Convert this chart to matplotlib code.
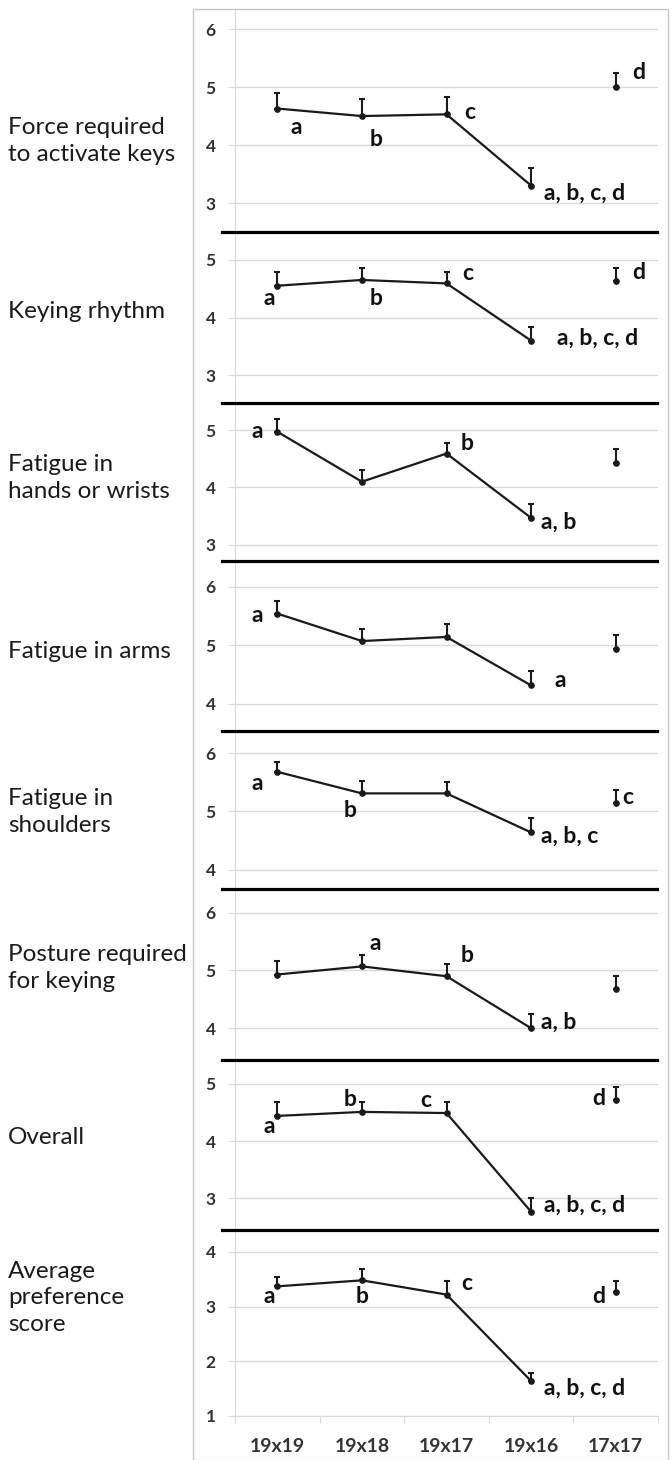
import matplotlib
matplotlib.use("Agg")
import matplotlib.pyplot as plt
from matplotlib.lines import Line2D
from matplotlib.patches import Rectangle

plt.rcParams['font.family'] = ['Lato', 'DejaVu Sans']

# ---- data ----
keyboards = ["19x19", "19x18", "19x17", "19x16", "17x17"]

titles = [
    "Force required\nto activate keys",
    "Keying rhythm",
    "Fatigue in\nhands or wrists",
    "Fatigue in arms",
    "Fatigue in\nshoulders",
    "Posture required\nfor keying",
    "Overall",
    "Average\npreference\nscore",
]

force_mean = [4.63, 4.50, 4.53, 3.30, 5.00]
force_err = [0.27, 0.30, 0.30, 0.30, 0.24]
rhythm_mean = [4.55, 4.65, 4.59, 3.60, 4.64]
rhythm_err = [0.24, 0.21, 0.20, 0.23, 0.22]
hands_mean = [4.97, 4.10, 4.59, 3.47, 4.43]
hands_err = [0.22, 0.21, 0.19, 0.24, 0.24]
arms_mean = [5.54, 5.07, 5.14, 4.31, 4.93]
arms_err = [0.22, 0.21, 0.22, 0.24, 0.24]
shoulders_mean = [5.68, 5.31, 5.31, 4.64, 5.14]
shoulders_err = [0.17, 0.21, 0.19, 0.24, 0.22]
posture_mean = [4.93, 5.07, 4.90, 4.00, 4.68]
posture_err = [0.23, 0.19, 0.22, 0.24, 0.23]
overall_mean = [4.44, 4.51, 4.49, 2.76, 4.72]
overall_err = [0.24, 0.18, 0.20, 0.24, 0.23]
pref_mean = [3.37, 3.48, 3.22, 1.64, 3.26]
pref_err = [0.18, 0.20, 0.24, 0.14, 0.20]

means = [force_mean, rhythm_mean, hands_mean, arms_mean,
         shoulders_mean, posture_mean, overall_mean, pref_mean]
errs = [force_err, rhythm_err, hands_err, arms_err,
        shoulders_err, posture_err, overall_err, pref_err]

yticks = [[3, 4, 5, 6], [3, 4, 5], [3, 4, 5], [4, 5, 6],
          [4, 5, 6], [4, 5, 6], [3, 4, 5], [1, 2, 3, 4]]

# significance letters: (keyboard index, text)
letters = [
    [(0, "a"), (1, "b"), (2, "c"), (3, "a, b, c, d"), (4, "d")],
    [(0, "a"), (1, "b"), (2, "c"), (3, "a, b, c, d"), (4, "d")],
    [(0, "a"), (2, "b"), (3, "a, b")],
    [(0, "a"), (3, "a")],
    [(0, "a"), (1, "b"), (3, "a, b, c"), (4, "c")],
    [(1, "a"), (2, "b"), (3, "a, b")],
    [(0, "a"), (1, "b"), (2, "c"), (3, "a, b, c, d"), (4, "d")],
    [(0, "a"), (1, "b"), (2, "c"), (3, "a, b, c, d"), (4, "d")],
]

# ---- layout (pixels) ----
W, H = 672, 1460
panel_px = [(10, 232), (232, 403), (403, 561), (561, 731),
            (731, 889), (889, 1060), (1060, 1230), (1230, 1416)]
ylims = [(2.5, 6.33), (2.52, 5.48), (2.72, 5.47), (3.53, 6.44),
         (3.67, 6.38), (3.45, 6.41), (2.44, 5.42), (1.0, 4.40)]
letter_offsets = [
    [(19, -19), (14, -23), (23, 2), (53, -8), (23, 15)],
    [(-8, -13), (14, -19), (21, 10), (66, 2), (23, 8)],
    [(-20, 0), (21, 10), (28, -4)],
    [(-20, -2), (29, 5)],
    [(-20, -12), (-12, -17), (39, -4), (12, 6)],
    [(13, 23), (21, 21), (28, 6)],
    [(-8, -11), (-12, 12), (-21, 13), (53, 7), (-17, 1)],
    [(-8, -10), (0, -16), (20, 11), (53, -7), (-17, -4)],
]
title_y = [141, 311, 478, 651, 812, 968, 1137, 1298]
ax_left, ax_right = 235, 658
grid_col = "#d9d9d9"
tick_col = "#333333"

fig = plt.figure(figsize=(W / 100, H / 100), dpi=100)

# outer frame of the pasted chart
fig.add_artist(Rectangle((193 / W, 0), (668 - 193) / W, (H - 9) / H,
                         transform=fig.transFigure, fill=False,
                         edgecolor="#c8c8c8", linewidth=1.0))

x = list(range(len(keyboards)))
for i in range(len(titles)):
    top, bot = panel_px[i]
    ax = fig.add_axes([ax_left / W, 1 - bot / H,
                       (ax_right - ax_left) / W, (bot - top) / H])
    ax.set_xlim(-0.5, 4.5)
    ax.set_ylim(*ylims[i])
    ax.set_facecolor("none")
    for s in ["top", "right", "bottom"]:
        ax.spines[s].set_visible(False)
    ax.spines["left"].set_color(grid_col)
    ax.set_yticks(yticks[i])
    ax.set_yticklabels([str(t) for t in yticks[i]], fontweight="bold",
                       fontsize=12.5, color=tick_col)
    ax.tick_params(axis="y", length=5, color=grid_col, pad=9)
    ax.yaxis.grid(True, color=grid_col, linewidth=1.0)
    ax.set_axisbelow(True)

    m = means[i]
    e = errs[i]
    ax.plot(x[:4], m[:4], color="#1a1a1a", linewidth=1.6, zorder=3)
    ax.errorbar(x, m, yerr=[[0] * 5, e], fmt="o", color="#1a1a1a",
                markersize=3.8, elinewidth=1.5, capsize=2.5, capthick=1.5,
                zorder=4)

    for (k, txt), (dx, dy) in zip(letters[i], letter_offsets[i]):
        ax.annotate(txt, (x[k], m[k]), xytext=(dx, dy),
                    textcoords="offset pixels", ha="center", va="center",
                    fontsize=16.5, fontweight="bold", color="#111111")

    if i == len(titles) - 1:
        ax.spines["bottom"].set_visible(True)
        ax.spines["bottom"].set_color(grid_col)
        ax.set_xticks([-0.5, 0.5, 1.5, 2.5, 3.5, 4.5])
        ax.set_xticklabels([])
        ax.set_xticks(x, minor=True)
        ax.set_xticklabels(keyboards, minor=True, fontweight="bold",
                           fontsize=14, color=tick_col)
        ax.tick_params(axis="x", which="major", length=5, color=grid_col)
        ax.tick_params(axis="x", which="minor", length=0, pad=16)
    else:
        ax.set_xticks([])

    fig.text(8 / W, 1 - title_y[i] / H, titles[i], fontsize=17.5,
             ha="left", va="center", color="#1a1a1a", linespacing=1.3)

# black separators between panels
for top, bot in panel_px[:-1]:
    fig.add_artist(Line2D([222 / W, 657 / W], [1 - bot / H, 1 - bot / H],
                          transform=fig.transFigure, color="black",
                          linewidth=2.3))

fig.savefig("out.png", dpi=100)
